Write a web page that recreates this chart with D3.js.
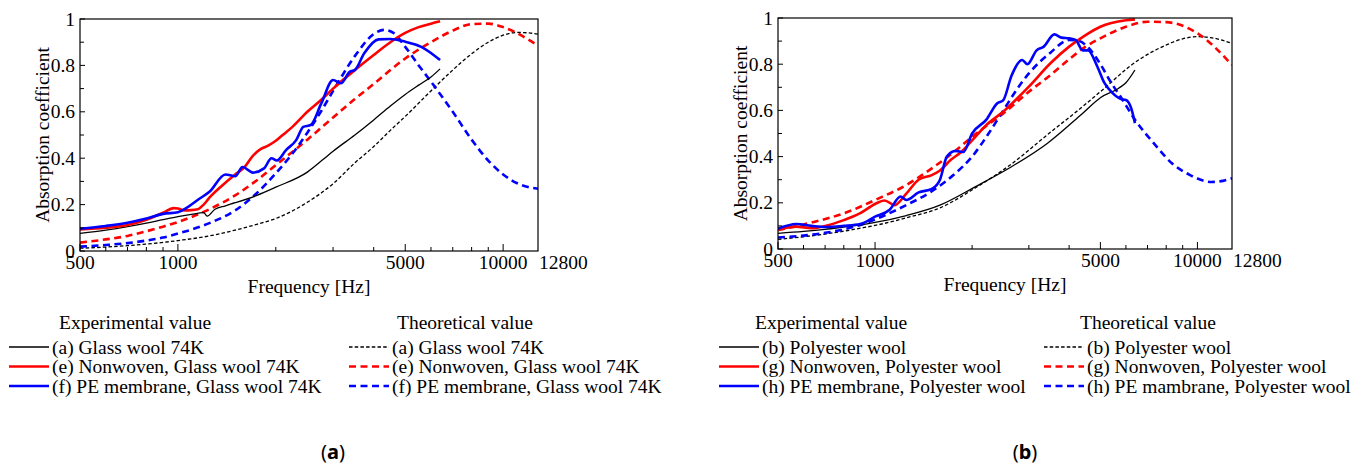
<!DOCTYPE html>
<html>
<head>
<meta charset="utf-8">
<script src="https://cdn.jsdelivr.net/npm/d3@7"></script>
<style>
  body { margin: 0; background: #ffffff; }
  svg { display: block; }
  .serif { font-family: "Liberation Serif", "DejaVu Serif", serif; }
  .caption { font-family: "Noto Sans", "Liberation Sans", sans-serif; }
</style>
</head>
<body>
<svg id="fig" width="1369" height="469"></svg>
<script>
// ---- Axis ticks ----
const xMajorTicks = [500, 1000, 5000, 10000];
const xMinorTicks = [600, 700, 800, 900, 2000, 3000, 4000, 6000, 7000, 8000, 9000];
const xTickLabels = [500, 1000, 5000, 10000];
const xEndLabel = 12800;
const yTickLabels = [0, 0.2, 0.4, 0.6, 0.8, 1];
const yMinorTicks = [0.1, 0.3, 0.5, 0.7, 0.9];

// ---- Panel (a): glass wool 74K, [frequency Hz, absorption coefficient] ----
const aGlassExp = [[500,0.076],[600,0.09],[700,0.105],[800,0.12],[900,0.135],[1000,0.148],[1100,0.158],[1200,0.165],[1230,0.15],[1300,0.18],[1400,0.195],[1500,0.208],[1750,0.24],[2000,0.275],[2500,0.34],[2800,0.395],[3000,0.43],[3500,0.5],[4000,0.565],[4500,0.625],[5000,0.675],[5500,0.715],[6000,0.75],[6400,0.785]];
const aNonwovenExp = [[500,0.093],[600,0.1],[700,0.112],[800,0.135],[900,0.165],[970,0.185],[1000,0.183],[1050,0.175],[1100,0.176],[1150,0.18],[1200,0.2],[1250,0.23],[1350,0.275],[1500,0.33],[1600,0.36],[1700,0.41],[1800,0.44],[1900,0.455],[2000,0.475],[2100,0.5],[2250,0.535],[2500,0.6],[2750,0.65],[3000,0.7],[3500,0.78],[4000,0.845],[4500,0.9],[5000,0.94],[5500,0.965],[6000,0.98],[6400,0.99]];
const aMembraneExp = [[500,0.096],[600,0.108],[700,0.122],[800,0.14],[900,0.16],[1000,0.167],[1060,0.185],[1150,0.22],[1250,0.255],[1400,0.33],[1500,0.322],[1580,0.362],[1700,0.338],[1840,0.356],[1940,0.4],[2015,0.39],[2150,0.435],[2310,0.478],[2430,0.535],[2560,0.543],[2760,0.636],[3000,0.737],[3170,0.723],[3380,0.773],[3500,0.78],[3740,0.852],[4140,0.912],[4500,0.914],[5000,0.902],[5600,0.88],[6400,0.823]];
const aGlassTheo = [[500,0.012],[600,0.017],[700,0.023],[800,0.03],[900,0.037],[1000,0.045],[1250,0.065],[1500,0.09],[1750,0.115],[2000,0.14],[2500,0.21],[3000,0.29],[3500,0.38],[4000,0.45],[4500,0.52],[5000,0.58],[6000,0.69],[7000,0.78],[8000,0.85],[9000,0.9],[10000,0.93],[11000,0.942],[12000,0.94],[12800,0.935]];
const aNonwovenTheo = [[500,0.036],[600,0.05],[700,0.065],[800,0.085],[900,0.105],[1000,0.125],[1250,0.18],[1500,0.24],[1750,0.305],[2000,0.37],[2500,0.48],[3000,0.575],[3500,0.655],[4000,0.72],[5000,0.83],[6000,0.9],[7000,0.95],[8000,0.978],[9000,0.98],[10000,0.965],[11000,0.94],[12000,0.91],[12800,0.885]];
const aMembraneTheo = [[500,0.019],[600,0.026],[700,0.034],[800,0.045],[900,0.058],[1000,0.075],[1250,0.12],[1500,0.175],[1750,0.25],[2000,0.335],[2250,0.42],[2500,0.51],[2750,0.6],[3000,0.69],[3500,0.84],[4000,0.935],[4300,0.953],[4600,0.94],[5000,0.88],[5500,0.8],[6000,0.73],[7000,0.6],[8000,0.48],[9000,0.39],[10000,0.33],[11000,0.293],[12000,0.275],[12800,0.268]];

// ---- Panel (b): polyester wool ----
const bPolyExp = [[500,0.068],[600,0.076],[700,0.085],[800,0.095],[900,0.104],[1000,0.115],[1250,0.145],[1590,0.19],[2050,0.27],[2650,0.356],[3420,0.457],[4400,0.587],[5000,0.655],[5700,0.696],[6000,0.72],[6400,0.775]];
const bNonwovenExp = [[500,0.085],[570,0.097],[635,0.09],[700,0.1],[800,0.125],[900,0.155],[1000,0.195],[1070,0.21],[1150,0.19],[1250,0.24],[1365,0.3],[1500,0.32],[1590,0.34],[1715,0.385],[1850,0.42],[2000,0.47],[2215,0.537],[2500,0.595],[3000,0.703],[3500,0.804],[4000,0.876],[4500,0.926],[5000,0.962],[6000,0.99],[6400,0.994]];
const bMembraneExp = [[500,0.088],[570,0.108],[635,0.1],[700,0.095],[800,0.1],[900,0.108],[1000,0.14],[1110,0.17],[1200,0.227],[1250,0.212],[1365,0.245],[1500,0.26],[1590,0.3],[1670,0.4],[1780,0.425],[1880,0.42],[2000,0.5],[2215,0.56],[2390,0.63],[2500,0.645],[2650,0.75],[2860,0.818],[2970,0.8],[3170,0.86],[3330,0.875],[3600,0.929],[3790,0.915],[4000,0.912],[4190,0.905],[4410,0.86],[4580,0.86],[4890,0.79],[5140,0.72],[5410,0.68],[5770,0.65],[6000,0.645],[6230,0.61],[6400,0.545]];
const bPolyTheo = [[500,0.042],[600,0.053],[700,0.065],[800,0.077],[900,0.09],[1000,0.102],[1250,0.135],[1590,0.178],[2050,0.265],[2650,0.368],[3420,0.494],[4400,0.616],[5000,0.681],[6500,0.814],[8000,0.883],[9000,0.91],[10000,0.919],[11000,0.915],[12000,0.903],[12800,0.89]];
const bNonwovenTheo = [[500,0.082],[650,0.118],[800,0.154],[1000,0.212],[1250,0.277],[1500,0.349],[1760,0.421],[2000,0.486],[2270,0.544],[2500,0.587],[3000,0.681],[3500,0.753],[4000,0.821],[4500,0.876],[5000,0.912],[6000,0.962],[7000,0.984],[8000,0.982],[10000,0.934],[12800,0.797]];
const bMembraneTheo = [[500,0.05],[600,0.058],[700,0.07],[800,0.085],[900,0.104],[1000,0.128],[1250,0.19],[1500,0.25],[1750,0.32],[2000,0.4],[2250,0.5],[2500,0.6],[2750,0.69],[3000,0.76],[3500,0.85],[4000,0.905],[4300,0.9],[4600,0.87],[5000,0.8],[5400,0.72],[5770,0.66],[6400,0.56],[7350,0.455],[8350,0.37],[9490,0.32],[10000,0.305],[11060,0.29],[12000,0.295],[12800,0.306]];

// ---- Legend texts ----
const aExpLabels = ["(a) Glass wool 74K", "(e) Nonwoven, Glass wool 74K", "(f) PE membrane, Glass wool 74K"];
const aTheoLabels = ["(a) Glass wool 74K", "(e) Nonwoven, Glass wool 74K", "(f) PE membrane, Glass wool 74K"];
const bExpLabels = ["(b) Polyester wool", "(g) Nonwoven, Polyester wool", "(h) PE membrane, Polyester wool"];
const bTheoLabels = ["(b) Polyester wool", "(g) Nonwoven, Polyester wool", "(h) PE mambrane, Polyester wool"];

const FS = 19.5;
const seriesColors = ["#000000", "#ff0000", "#0000ff"];

const svg = d3.select("#fig");

function lineStyle(sel, idx, dashed) {
  sel.attr("fill", "none")
     .attr("stroke", seriesColors[idx])
     .attr("stroke-width", idx === 0 ? 1.3 : 2.6)
     .attr("stroke-dasharray", dashed ? (idx === 0 ? "3.5,2.2" : "7,4.5") : null);
}

function label(sel) {
  return sel.attr("class", "serif").style("font-size", FS + "px");
}

function drawPanel(cfg) {
  const { left, right, top, bottom, id } = cfg;
  const x = d3.scaleLog().domain([500, 12800]).range([left, right]);
  const y = d3.scaleLinear().domain([0, 1]).range([bottom, top]);
  const g = svg.append("g");

  g.append("clipPath").attr("id", "clip-" + id)
    .append("rect").attr("x", left).attr("y", top - 2)
    .attr("width", right - left).attr("height", bottom - top + 2);

  const line = d3.line()
    .x(d => x(d[0])).y(d => y(d[1]))
    .curve(d3.curveMonotoneX);

  const plot = g.append("g").attr("clip-path", `url(#clip-${id})`);
  // theoretical (dashed) first, experimental (solid) on top
  cfg.theo.forEach((s, i) => plot.append("path").attr("d", line(s)).call(lineStyle, i, true));
  cfg.exp.forEach((s, i) => plot.append("path").attr("d", line(s)).call(lineStyle, i, false));

  // frame
  g.append("rect").attr("x", left).attr("y", top)
    .attr("width", right - left).attr("height", bottom - top)
    .attr("fill", "none").attr("stroke", "#000").attr("stroke-width", 1.2);

  // x ticks (pointing inward)
  g.selectAll(null).data(xMajorTicks).enter().append("line")
    .attr("x1", d => x(d)).attr("x2", d => x(d))
    .attr("y1", bottom).attr("y2", bottom - 7)
    .attr("stroke", "#000").attr("stroke-width", 1);
  g.selectAll(null).data(xMinorTicks).enter().append("line")
    .attr("x1", d => x(d)).attr("x2", d => x(d))
    .attr("y1", bottom).attr("y2", bottom - 4)
    .attr("stroke", "#000").attr("stroke-width", 1);
  g.selectAll(null).data(xTickLabels).enter().append("text")
    .call(label)
    .attr("x", d => x(d)).attr("y", bottom + 18)
    .attr("text-anchor", "middle")
    .text(d => d);
  g.append("text").call(label)
    .attr("x", x(xEndLabel) + 1).attr("y", bottom + 18)
    .attr("text-anchor", "start")
    .text(xEndLabel);

  // y ticks
  g.selectAll(null).data(yTickLabels).enter().append("line")
    .attr("x1", left).attr("x2", left + 5)
    .attr("y1", d => y(d)).attr("y2", d => y(d))
    .attr("stroke", "#000").attr("stroke-width", 1);
  g.selectAll(null).data(yMinorTicks).enter().append("line")
    .attr("x1", left).attr("x2", left + 4)
    .attr("y1", d => y(d)).attr("y2", d => y(d))
    .attr("stroke", "#000").attr("stroke-width", 1);
  g.selectAll(null).data(yTickLabels).enter().append("text")
    .call(label)
    .attr("x", left - 5).attr("y", d => y(d))
    .attr("dy", "0.34em")
    .attr("text-anchor", "end")
    .text(d => d3.format("~g")(d));

  // axis titles
  g.append("text").call(label)
    .attr("x", (left + right) / 2).attr("y", bottom + 42)
    .attr("text-anchor", "middle")
    .text("Frequency [Hz]");
  g.append("text").call(label)
    .attr("transform", `translate(${left - 38},${(top + bottom) / 2}) rotate(-90)`)
    .attr("dy", "0.34em")
    .attr("text-anchor", "middle")
    .text("Absorption coefficient");

  // legend
  const lg = cfg.legend;
  function legendBlock(x0, lineX0, lineX1, header, labels, dashed) {
    g.append("text").call(label).attr("x", x0).attr("y", lg.headerY).text(header);
    labels.forEach((t, i) => {
      const yy = lg.rowY + i * lg.rowGap;
      g.append("line").attr("x1", lineX0).attr("x2", lineX1)
        .attr("y1", yy).attr("y2", yy).call(lineStyle, i, dashed);
      g.append("text").call(label).attr("x", lineX1 + 3).attr("y", yy + 6.5).text(t);
    });
  }
  legendBlock(lg.expHeaderX, lg.expLine[0], lg.expLine[1], "Experimental value", cfg.expLabels, false);
  legendBlock(lg.theoHeaderX, lg.theoLine[0], lg.theoLine[1], "Theoretical value", cfg.theoLabels, true);

  // panel caption
  const cap = g.append("text").attr("class", "caption")
    .attr("x", cfg.captionX).attr("y", 459)
    .attr("text-anchor", "middle")
    .style("font-size", "20px");
  cap.append("tspan").text("(");
  cap.append("tspan").style("font-weight", "bold").text(id);
  cap.append("tspan").text(")");
}

drawPanel({
  id: "a", left: 80, right: 538, top: 19, bottom: 251,
  exp: [aGlassExp, aNonwovenExp, aMembraneExp],
  theo: [aGlassTheo, aNonwovenTheo, aMembraneTheo],
  expLabels: aExpLabels, theoLabels: aTheoLabels,
  legend: { headerY: 329, rowY: 347, rowGap: 19.5,
            expHeaderX: 59, expLine: [9, 49],
            theoHeaderX: 397, theoLine: [349, 389] },
  captionX: 333
});

drawPanel({
  id: "b", left: 778, right: 1232, top: 18, bottom: 249,
  exp: [bPolyExp, bNonwovenExp, bMembraneExp],
  theo: [bPolyTheo, bNonwovenTheo, bMembraneTheo],
  expLabels: bExpLabels, theoLabels: bTheoLabels,
  legend: { headerY: 329, rowY: 347, rowGap: 19.5,
            expHeaderX: 755, expLine: [719, 759],
            theoHeaderX: 1080, theoLine: [1044, 1084] },
  captionX: 1025
});
</script>
</body>
</html>
